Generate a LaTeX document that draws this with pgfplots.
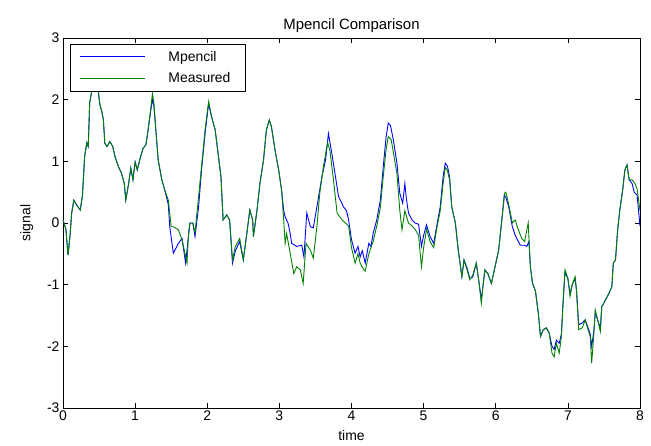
\documentclass[border=0pt]{standalone}
\usepackage{pgfplots}
\pgfplotsset{compat=1.18}
\usepackage{fontspec}
\setmainfont{Liberation Sans}
\definecolor{mblue}{rgb}{0,0,1}
\definecolor{mgreen}{rgb}{0,0.5,0}
\pgfplotstableread{
t v
0.00 0.05
0.04 -0.10
0.07 -0.52
0.10 -0.17
0.12 0.16
0.15 0.37
0.19 0.29
0.24 0.21
0.27 0.45
0.30 1.08
0.33 1.30
0.35 1.24
0.37 1.95
0.40 2.15
0.44 2.35
0.49 2.15
0.51 1.94
0.54 1.80
0.56 1.67
0.58 1.29
0.61 1.24
0.65 1.32
0.69 1.24
0.72 1.08
0.77 0.91
0.81 0.81
0.85 0.64
0.87 0.37
0.91 0.64
0.94 0.89
0.97 0.70
1.00 0.99
1.03 0.86
1.07 1.05
1.11 1.21
1.15 1.27
1.18 1.51
1.22 1.89
1.24 2.10
1.26 1.95
1.28 1.62
1.32 1.02
1.37 0.70
1.41 0.54
1.46 0.37
1.50 -0.06
1.53 -0.06
1.60 -0.11
1.65 -0.27
1.72 -0.65
1.74 -0.16
1.76 0.00
1.80 0.00
1.83 -0.16
1.88 0.43
1.92 0.91
1.97 1.51
2.01 1.89
2.02 1.97
2.06 1.72
2.11 1.51
2.15 1.13
2.19 0.75
2.22 0.05
2.27 0.13
2.31 0.05
2.35 -0.60
2.39 -0.38
2.45 -0.25
2.50 -0.60
2.55 -0.16
2.59 0.21
2.63 0.05
2.64 -0.22
2.69 0.21
2.73 0.64
2.78 1.02
2.82 1.51
2.86 1.67
2.89 1.56
2.94 1.18
2.99 0.86
3.03 0.54
3.06 0.05
3.08 -0.33
3.10 -0.17
3.15 -0.49
3.20 -0.82
3.24 -0.71
3.29 -0.76
3.33 -0.98
3.37 -0.33
3.43 -0.44
3.47 -0.57
3.52 -0.06
3.56 0.48
3.61 0.91
3.65 1.18
3.67 1.30
3.70 1.18
3.75 0.70
3.80 0.16
3.87 0.05
3.96 -0.05
4.00 -0.40
4.05 -0.65
4.09 -0.50
4.12 -0.65
4.17 -0.76
4.19 -0.78
4.24 -0.50
4.30 -0.30
4.35 -0.05
4.40 0.25
4.44 0.75
4.48 1.20
4.51 1.40
4.55 1.35
4.58 1.15
4.63 0.80
4.67 0.20
4.70 -0.11
4.74 0.20
4.79 0.00
4.84 -0.05
4.88 -0.10
4.93 -0.20
4.97 -0.71
5.00 -0.40
5.04 -0.10
5.09 -0.30
5.14 -0.40
5.18 -0.10
5.23 0.20
5.27 0.64
5.30 0.90
5.33 0.85
5.36 0.70
5.39 0.26
5.44 0.00
5.48 -0.44
5.53 -0.87
5.56 -0.60
5.60 -0.75
5.64 -0.92
5.68 -0.85
5.73 -0.65
5.77 -0.98
5.80 -1.30
5.82 -1.05
5.85 -0.76
5.89 -0.82
5.94 -0.98
5.99 -0.71
6.04 -0.44
6.08 0.00
6.12 0.48
6.14 0.50
6.18 0.30
6.23 0.00
6.27 0.05
6.31 -0.10
6.36 -0.25
6.40 -0.30
6.45 0.00
6.48 -0.71
6.51 -0.98
6.55 -1.10
6.59 -1.46
6.62 -1.84
6.66 -1.73
6.70 -1.70
6.74 -1.78
6.78 -2.11
6.81 -2.17
6.84 -1.95
6.88 -2.11
6.91 -1.84
6.93 -1.36
6.96 -0.76
7.00 -0.90
7.03 -1.19
7.06 -1.00
7.10 -0.87
7.12 -1.10
7.15 -1.73
7.20 -1.70
7.24 -1.57
7.28 -1.73
7.31 -1.84
7.33 -2.27
7.36 -1.80
7.38 -1.41
7.42 -1.60
7.45 -1.76
7.47 -1.36
7.52 -1.25
7.57 -1.14
7.61 -1.03
7.63 -0.65
7.66 -0.60
7.69 -0.11
7.72 0.21
7.76 0.54
7.79 0.86
7.82 0.94
7.85 0.70
7.89 0.70
7.93 0.64
7.96 0.55
8.00 0.20
}\measured
\pgfplotstableread{
t v
0.00 0.05
0.04 -0.10
0.07 -0.52
0.10 -0.17
0.12 0.16
0.15 0.37
0.19 0.29
0.24 0.21
0.27 0.45
0.30 1.08
0.33 1.30
0.35 1.24
0.37 1.95
0.40 2.15
0.44 2.30
0.49 2.12
0.51 1.92
0.54 1.80
0.56 1.67
0.58 1.29
0.61 1.24
0.65 1.32
0.69 1.24
0.72 1.08
0.77 0.91
0.81 0.81
0.85 0.64
0.87 0.37
0.91 0.64
0.94 0.89
0.97 0.70
1.00 0.99
1.03 0.86
1.07 1.05
1.11 1.21
1.15 1.27
1.18 1.51
1.22 1.85
1.24 2.00
1.26 1.90
1.28 1.62
1.32 1.02
1.37 0.70
1.41 0.54
1.46 0.30
1.48 -0.06
1.53 -0.49
1.60 -0.33
1.65 -0.25
1.70 -0.65
1.76 0.00
1.80 0.00
1.83 -0.22
1.88 0.26
1.92 0.85
1.97 1.45
2.01 1.85
2.02 1.93
2.06 1.72
2.11 1.51
2.15 1.13
2.19 0.75
2.22 0.05
2.27 0.13
2.31 0.05
2.35 -0.65
2.39 -0.45
2.45 -0.30
2.50 -0.60
2.55 -0.16
2.59 0.21
2.63 0.05
2.64 -0.22
2.69 0.21
2.73 0.64
2.78 1.02
2.82 1.51
2.86 1.67
2.89 1.56
2.94 1.18
2.99 0.86
3.03 0.54
3.06 0.20
3.08 0.10
3.12 0.00
3.15 -0.17
3.17 -0.33
3.24 -0.38
3.31 -0.36
3.34 -0.55
3.38 0.16
3.43 -0.06
3.47 -0.08
3.52 0.26
3.59 0.75
3.64 1.02
3.68 1.45
3.72 1.18
3.77 0.81
3.82 0.43
3.89 0.26
3.93 0.20
3.96 0.05
4.00 -0.27
4.05 -0.49
4.09 -0.38
4.12 -0.55
4.15 -0.45
4.19 -0.65
4.24 -0.33
4.27 -0.38
4.30 -0.17
4.35 0.05
4.40 0.37
4.44 0.91
4.48 1.40
4.51 1.62
4.54 1.58
4.58 1.35
4.63 0.97
4.67 0.48
4.71 0.32
4.74 0.64
4.76 0.40
4.79 0.16
4.84 0.05
4.88 0.00
4.93 -0.02
4.97 -0.38
5.00 -0.20
5.04 -0.03
5.09 -0.22
5.14 -0.33
5.18 -0.06
5.23 0.26
5.27 0.75
5.30 0.97
5.33 0.92
5.36 0.75
5.39 0.26
5.44 0.00
5.48 -0.44
5.53 -0.87
5.56 -0.60
5.60 -0.72
5.64 -0.90
5.68 -0.88
5.73 -0.65
5.77 -0.98
5.80 -1.25
5.82 -1.05
5.85 -0.76
5.89 -0.82
5.94 -0.98
5.99 -0.71
6.04 -0.44
6.08 0.00
6.12 0.45
6.14 0.42
6.18 0.26
6.23 -0.06
6.27 -0.20
6.34 -0.36
6.40 -0.36
6.43 -0.38
6.46 -0.30
6.48 -0.71
6.51 -0.98
6.55 -1.10
6.59 -1.46
6.62 -1.84
6.66 -1.73
6.70 -1.70
6.74 -1.78
6.78 -2.00
6.81 -2.05
6.84 -1.90
6.88 -1.95
6.91 -1.80
6.93 -1.36
6.96 -0.80
7.00 -0.90
7.03 -1.15
7.06 -1.00
7.10 -0.90
7.12 -1.10
7.15 -1.65
7.20 -1.62
7.24 -1.57
7.28 -1.70
7.31 -1.80
7.33 -2.00
7.36 -1.75
7.38 -1.45
7.42 -1.60
7.45 -1.70
7.47 -1.36
7.52 -1.25
7.57 -1.14
7.61 -1.03
7.63 -0.65
7.66 -0.60
7.69 -0.11
7.72 0.21
7.76 0.54
7.79 0.86
7.82 0.94
7.85 0.70
7.89 0.64
7.92 0.50
7.96 0.45
8.00 -0.05
}\mpencil
\begin{document}
\begin{tikzpicture}
\begin{axis}[
  scale only axis,
  width=577bp, height=370bp,
  xmin=0, xmax=8, ymin=-3, ymax=3,
  xtick={0,...,8}, ytick={-3,...,3},
  tick align=inside,
  major tick length=5bp,
  axis line style={line width=0.8pt},
  every tick/.style={line width=0.6pt, black},
  /pgf/number format/assume math mode=true,
  tick label style={font=\fontsize{14}{16}\selectfont},
  xticklabel style={yshift=1bp},
  label style={font=\fontsize{14}{16}\selectfont},
  title style={font=\fontsize{15}{17}\selectfont, yshift=-4bp},
  title={Mpencil Comparison},
  xlabel={time}, ylabel={signal},
  xlabel style={yshift=-3bp},
  ylabel style={yshift=7bp},
  legend style={at={(7/577,1-6/370)}, anchor=north west,
    font=\fontsize{14}{16}\selectfont, draw=black, line width=0.8pt,
    fill=white, inner xsep=0bp, inner ysep=3bp, row sep=1bp,
    nodes={inner xsep=0bp, inner ysep=0bp},
    cells={anchor=west}},
  legend cell align=left,
]
\addplot[color=mblue, line width=0.9pt,
  legend image code/.code={\draw[draw=mblue, line width=1.2pt] (10bp,0.5bp) -- (75bp,0.5bp);
     \path[draw=none, fill=none] (0bp,-10bp) rectangle (98bp,10bp);}]
  table[x=t, y=v] {\mpencil};
\addlegendentry{\makebox[77bp][l]{Mpencil}}
\addplot[color=mgreen, line width=0.9pt,
  legend image code/.code={\draw[draw=mgreen, line width=1.2pt] (10bp,0bp) -- (75bp,0bp);
     \path[draw=none, fill=none] (0bp,-10bp) rectangle (98bp,10bp);}]
  table[x=t, y=v] {\measured};
\addlegendentry{\makebox[77bp][l]{Measured}}
\coordinate (sw) at (rel axis cs:0,0);
\end{axis}
\path (sw) ++(-63bp,-38bp) rectangle ++(651bp,446bp);
\end{tikzpicture}
\end{document}
